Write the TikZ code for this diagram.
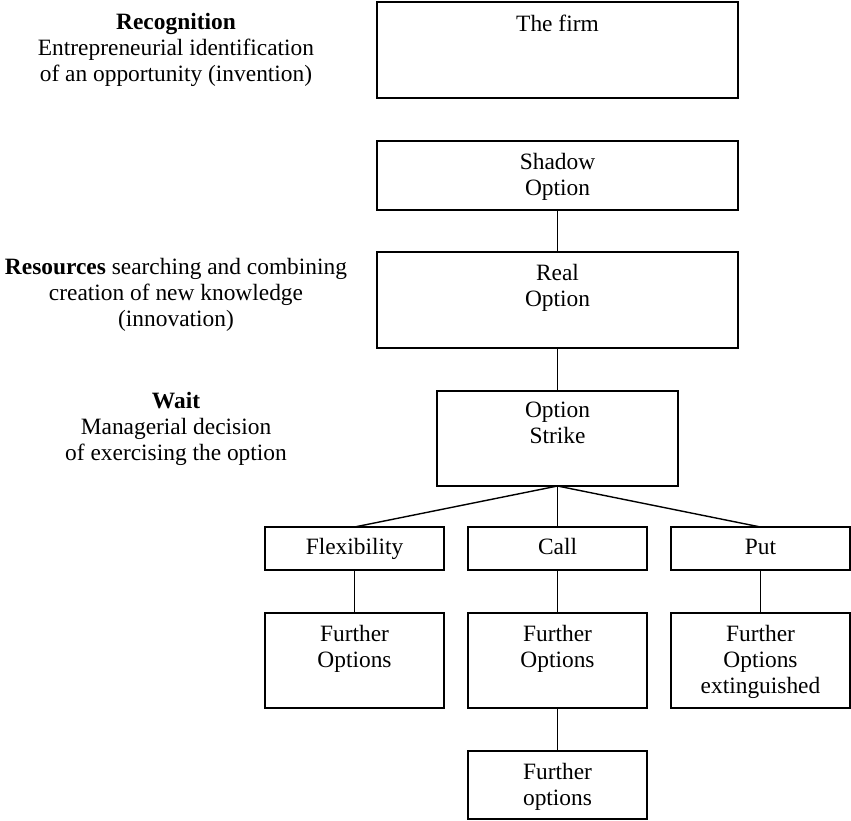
\documentclass[tikz,border=0pt]{standalone}
\usepackage{fontspec}
\setmainfont{Liberation Serif}
\begin{document}
\begin{tikzpicture}[x=1pt,y=-1pt,
  bx/.style={draw=black, line width=1.4pt, inner sep=0pt, outer sep=0pt},
  onebox/.style={bx, minimum width=179pt, minimum height=43pt, text height=16pt, text depth=5pt, font=\fontsize{23.4}{26}\selectfont},
  lbl/.style={anchor=north, inner sep=0pt, align=center, font=\fontsize{23.4}{26}\selectfont},
  ln/.style={line width=1.4pt}]
\useasboundingbox (0,0) rectangle (851,820);

% boxes
\node[bx, minimum width=361pt, minimum height=96pt] (firm)   at (557.5,50) {};
\node[bx, minimum width=361pt, minimum height=69pt] (shadow) at (557.5,175.5) {};
\node[bx, minimum width=361pt, minimum height=96pt] (real)   at (557.5,300) {};
\node[bx, minimum width=241pt, minimum height=95pt] (strike) at (557.5,438.5) {};
\node[onebox] (flex) at (354.5,548.5) {Flexibility};
\node[onebox] (call) at (557.5,548.5) {Call};
\node[onebox] (put)  at (760.5,548.5) {Put};
\node[bx, minimum width=179pt, minimum height=95pt] (fo1) at (354.5,660.5) {};
\node[bx, minimum width=179pt, minimum height=95pt] (fo2) at (557.5,660.5) {};
\node[bx, minimum width=179pt, minimum height=95pt] (fo3) at (760.5,660.5) {};
\node[bx, minimum width=179pt, minimum height=68pt] (fo4) at (557.5,785) {};

% box texts
\node[lbl] (tfirm)   at (557.5,14.5) {The firm};
\node[lbl] (tshadow) at (557.5,153) {Shadow\\Option};
\node[lbl] (treal)   at (557.5,264) {Real\\Option};
\node[lbl] (tstrike) at (557.5,402) {Option\\Strike};
\node[lbl] (tfo1) at (354.5,625) {Further\\Options};
\node[lbl] (tfo2) at (557.5,625) {Further\\Options};
\node[lbl] (tfo3) at (760.5,625) {Further\\Options\\extinguished};
\node[lbl] (tfo4) at (557.5,763) {Further\\options};

% left texts
\node[lbl] (recog) at (176,13) {\textbf{Recognition}\\Entrepreneurial identification\\of an opportunity (invention)};
\node[lbl] (res)   at (176,258) {\textbf{Resources} searching and combining\\creation of new knowledge\\(innovation)};
\node[lbl] (wait)  at (176,392) {\textbf{Wait}\\Managerial decision\\of exercising the option};

% connectors
\draw[ln] (shadow.south) -- (real.north);
\draw[ln] (real.south) -- (strike.north);
\draw[ln] (strike.south) -- (flex.north);
\draw[ln] (strike.south) -- (call.north);
\draw[ln] (strike.south) -- (put.north);
\draw[ln] (flex.south) -- (fo1.north);
\draw[ln] (call.south) -- (fo2.north);
\draw[ln] (put.south) -- (fo3.north);
\draw[ln] (fo2.south) -- (fo4.north);
\end{tikzpicture}
\end{document}
